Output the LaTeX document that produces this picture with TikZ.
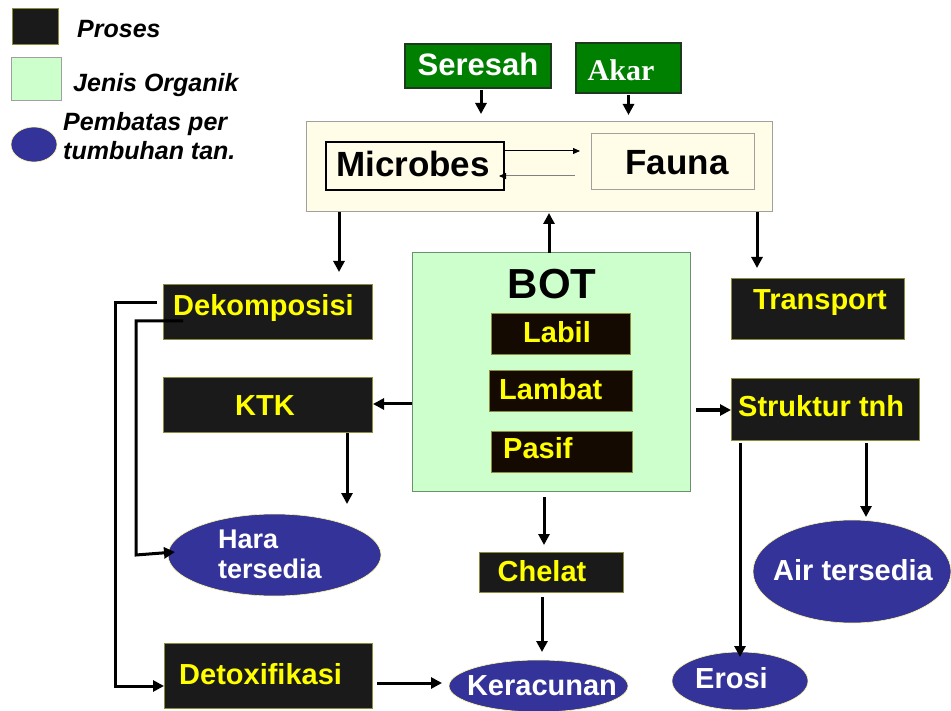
\documentclass[tikz,border=0pt]{standalone}
\usepackage{fontspec}
\setmainfont{Liberation Sans}
\newfontfamily\serifbold{Liberation Serif}
\usetikzlibrary{arrows.meta,shapes.geometric}
\definecolor{procfill}{HTML}{1A1A1A}
\definecolor{procedge}{HTML}{8C8C3A}
\definecolor{botinner}{HTML}{140A02}
\definecolor{orgfill}{HTML}{CCFFCC}
\definecolor{orgedge}{HTML}{6E8F6E}
\definecolor{leafgreen}{HTML}{008000}
\definecolor{leafedge}{HTML}{1E3A1E}
\definecolor{soilfill}{HTML}{FFFCE8}
\definecolor{soiledge}{HTML}{A0A0A0}
\definecolor{limitfill}{HTML}{333399}
\definecolor{txtyellow}{HTML}{FFFF00}
\begin{document}
\begin{tikzpicture}[x=1pt,y=-1pt,
  box/.style={rectangle,inner sep=0pt,outer sep=0pt},
  proc/.style={box,draw=procedge,fill=procfill,line width=0.8pt},
  inproc/.style={box,draw=procedge,fill=botinner,line width=0.8pt},
  leaf/.style={box,draw=leafedge,fill=leafgreen,line width=1.2pt},
  limit/.style={ellipse,inner sep=0pt,outer sep=0pt,draw=yellow!40!white,fill=limitfill,line width=0.6pt},
  ytext/.style={inner sep=0pt,text=txtyellow,font=\fontsize{29}{33}\selectfont\bfseries},
  wtext/.style={inner sep=0pt,text=white,font=\fontsize{29}{33}\selectfont\bfseries},
  btext/.style={inner sep=0pt,text=black,font=\fontsize{35}{40}\selectfont\bfseries},
  legtext/.style={inner sep=0pt,text=black,font=\fontsize{25}{29}\selectfont\bfseries\itshape,align=left},
  arr/.style={line width=3pt,-{Triangle[length=11pt,width=11pt]}},
  thinarr/.style={line width=1pt,-{Triangle[length=7pt,width=6pt,color=black]}}
]
\useasboundingbox (0,0) rectangle (951,711);

% legend
\node[proc,minimum width=46,minimum height=36] (leg1) at (35,26) {};
\node[legtext,anchor=west] (leg1t) at (77,29) {Proses};
\node[box,draw=soiledge,fill=orgfill,line width=1pt,minimum width=50,minimum height=43] (leg2) at (36,79.5) {};
\node[legtext,anchor=west] (leg2t) at (73,85) {Jenis Organik};
\node[limit,minimum width=46,minimum height=35] (leg3) at (34,144.5) {};
\node[legtext,anchor=west] (leg3t) at (63,136) {Pembatas per\\tumbuhan tan.};

% inputs
\node[leaf,minimum width=146,minimum height=44] (seresah) at (478,66) {};
\node[wtext,font=\fontsize{31}{35}\selectfont\bfseries] (seresaht) at (478,64) {Seresah};
\node[leaf,minimum width=105,minimum height=50] (akar) at (628.5,68) {};
\node[wtext,font=\fontsize{30}{34}\selectfont\serifbold\bfseries] (akart) at (621,70) {Akar};

% soil biota box
\node[box,draw=soiledge,fill=soilfill,line width=1pt,minimum width=466,minimum height=90] (soil) at (539,167) {};
\node[box,draw=black,fill=soilfill,line width=1.2pt,minimum width=178,minimum height=48] (microbes) at (415,166) {};
\node[btext] (microbest) at (413,164) {Microbes};
\node[box,draw=soiledge,fill=soilfill,line width=1pt,minimum width=163,minimum height=56] (fauna) at (672.5,162) {};
\node[btext] (faunat) at (677,163) {Fauna};
\draw[thinarr,shorten >=11pt] (microbes.east |- 0,151) -- (fauna.west |- 0,151);
\draw[draw=gray,thinarr,shorten <=16pt,shorten >=-5pt] (fauna.west |- 0,176) -- (microbes.east |- 0,176);

% BOT
\node[box,draw=orgedge,fill=orgfill,line width=1pt,minimum width=278,minimum height=238] (bot) at (551,372) {};
\node[inner sep=0pt,font=\fontsize{42}{46}\selectfont\bfseries] (bott) at (552,284) {BOT};
\node[inproc,minimum width=139,minimum height=41] (labil) at (560.5,333.5) {};
\node[ytext] (labilt) at (557,332) {Labil};
\node[inproc,minimum width=143,minimum height=41] (lambat) at (560.5,390.5) {};
\node[ytext,anchor=west] (lambatt) at (499,389) {Lambat};
\node[inproc,minimum width=141,minimum height=41] (pasif) at (561.5,451.5) {};
\node[ytext,anchor=west] (pasift) at (503,448) {Pasif};

% left column
\node[proc,minimum width=209,minimum height=55] (dek) at (267.5,311.5) {};
\node[ytext,anchor=west] (dekt) at (173,308) {Dekomposisi};
\node[proc,minimum width=209,minimum height=55] (ktk) at (267.5,404.5) {};
\node[ytext] (ktkt) at (265,406) {KTK};
\node[limit,minimum width=213,minimum height=82] (hara) at (274.5,555) {};
\node[wtext,anchor=west,align=left,font=\fontsize{27}{30}\selectfont\bfseries] (harat) at (218,554) {Hara\\tersedia};
\node[proc,minimum width=208,minimum height=65] (detox) at (268,675.5) {};
\node[ytext,anchor=west] (detoxt) at (179,674) {Detoxifikasi};

% middle bottom
\node[proc,minimum width=144,minimum height=40] (chelat) at (551,572) {};
\node[ytext] (chelatt) at (542,571) {Chelat};
\node[limit,minimum width=179,minimum height=52] (keracunan) at (538.5,686) {};
\node[wtext] (keracunant) at (542,686) {Keracunan};

% right column
\node[proc,minimum width=173,minimum height=61] (transport) at (817.5,308.5) {};
\node[ytext] (transportt) at (820,303) {Transport};
\node[proc,minimum width=188,minimum height=62] (struktur) at (825,409) {};
\node[ytext,anchor=west] (strukturt) at (738,406) {Struktur tnh};
\node[limit,minimum width=198,minimum height=103] (air) at (852,571.5) {};
\node[wtext] (airt) at (853,570) {Air tersedia};
\node[limit,minimum width=136,minimum height=58] (erosi) at (740,681) {};
\node[wtext,anchor=west] (erosit) at (695,678) {Erosi};

% connectors
\draw[arr,shorten <=2pt,shorten >=8pt] (seresah.south -| 481,0) -- (soil.north -| 481,0);
\draw[arr,shorten <=2pt,shorten >=7pt] (akar.south) -- (akar.south |- soil.north);
\draw[arr,shorten >=12pt] (soil.south -| 339,0) -- (dek.north -| 339,0);
\draw[arr,shorten >=1pt] (bot.north -| 549,0) -- (soil.south -| 549,0);
\draw[arr,shorten >=10pt] (soil.south -| 757,0) -- (transport.north -| 757,0);
\draw[arr,shorten >=1pt] (bot.west |- 0,404) -- (ktk.east |- 0,404);
\draw[arr,shorten <=6pt] (bot.east |- 0,410) -- (struktur.west |- 0,410);
\draw[arr,shorten <=1pt] (ktk.south -| 347,0) -- (347,504);
\draw[arr,shorten <=6pt,shorten >=7pt] (bot.south -| 544,0) -- (chelat.north -| 544,0);
\draw[arr,shorten <=5pt,shorten >=8pt] (chelat.south -| 542,0) -- (keracunan.north -| 542,0);
\draw[arr,shorten <=5pt,shorten >=7pt] (detox.east |- 0,683) -- (keracunan.west |- 0,683);
\draw[arr,shorten <=3pt,shorten >=-5pt] (struktur.south -| 740,0) -- (erosi.north -| 740,0);
\draw[arr,shorten <=3pt,shorten >=3pt] (struktur.south -| 866,0) -- (air.north -| 866,0);
\draw[arr] ([xshift=-6pt]dek.west |- 0,303) -- (115,303) -- (115,686) -- (detox.west |- 0,686);
\draw[arr] (183,321) -- (136,321) -- (136,555) -- ([xshift=7pt]hara.west |- 0,552);
\end{tikzpicture}
\end{document}
